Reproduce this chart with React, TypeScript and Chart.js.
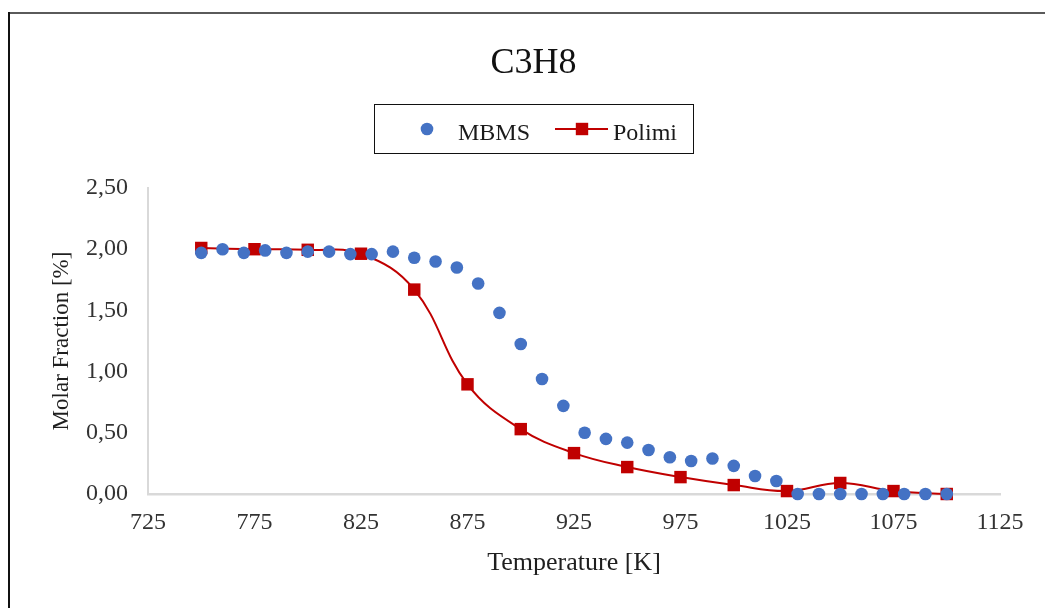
import React, { useEffect, useRef } from "react";
import { Chart, registerables } from "chart.js";

Chart.register(...registerables);

// ---- Data ----
const mbmsTemps = [
  750, 760, 770, 780, 790, 800, 810, 820, 830, 840, 850, 860, 870, 880, 890, 900, 910, 920,
  930, 940, 950, 960, 970, 980, 990, 1000, 1010, 1020, 1030, 1040, 1050, 1060, 1070, 1080, 1090, 1100,
];
const mbmsValues = [
  1.97, 2.0, 1.97, 1.99, 1.97, 1.98, 1.98, 1.96, 1.96, 1.98, 1.93, 1.9, 1.85, 1.72, 1.48, 1.225, 0.94, 0.72,
  0.5, 0.45, 0.42, 0.36, 0.3, 0.27, 0.29, 0.23, 0.147, 0.106, 0.0, 0.0, 0.0, 0.0, 0.0, 0.0, 0.0, 0.0,
];
const polimiTemps = [750, 775, 800, 825, 850, 875, 900, 925, 950, 975, 1000, 1025, 1050, 1075, 1100];
const polimiValues = [2.01, 2.0, 1.995, 1.963, 1.67, 0.896, 0.53, 0.334, 0.22, 0.138, 0.073, 0.024, 0.09, 0.024, 0.0];

const seriesNames = ["MBMS", "Polimi"];
const seriesColors = ["#4472C4", "#C00000"];
const chartTitle = "C3H8";
const xTitle = "Temperature [K]";
const yTitle = "Molar Fraction [%]";
const xMin = 725;
const xMax = 1125;
const xStep = 50;
const yMin = 0;
const yMax = 2.5;
const yStep = 0.5;

const FONT = "'Liberation Serif', 'Times New Roman', serif";

const decorPlugin = {
  id: "decor",
  beforeDraw(chart: any) {
    const ctx = chart.ctx;
    ctx.save();
    ctx.fillStyle = "#ffffff";
    ctx.fillRect(0, 0, chart.width, chart.height);
    // outer frame (top & left edges)
    ctx.strokeStyle = "#5a5a5a";
    ctx.lineWidth = 2;
    ctx.beginPath();
    ctx.moveTo(8, 13);
    ctx.lineTo(chart.width, 13);
    ctx.stroke();
    ctx.strokeStyle = "#111111";
    ctx.beginPath();
    ctx.moveTo(9, 12);
    ctx.lineTo(9, chart.height);
    ctx.stroke();
    ctx.restore();
  },
  afterDraw(chart: any) {
    const ctx = chart.ctx;
    const cx = 533.5;
    ctx.save();
    // title
    ctx.fillStyle = "#111111";
    ctx.font = `36px ${FONT}`;
    ctx.textAlign = "center";
    ctx.textBaseline = "alphabetic";
    ctx.fillText(chartTitle, cx, 73);

    // legend box
    const bx = 374.5, by = 104.5, bw = 319, bh = 49;
    ctx.strokeStyle = "#111111";
    ctx.lineWidth = 1;
    ctx.strokeRect(bx, by, bw, bh);
    const ly = 129;
    // MBMS marker
    ctx.fillStyle = seriesColors[0];
    ctx.beginPath();
    ctx.arc(427, ly, 6.3, 0, Math.PI * 2);
    ctx.fill();
    // Polimi marker: line + square
    ctx.strokeStyle = seriesColors[1];
    ctx.lineWidth = 2;
    ctx.beginPath();
    ctx.moveTo(555, ly);
    ctx.lineTo(608, ly);
    ctx.stroke();
    ctx.fillStyle = seriesColors[1];
    ctx.fillRect(582 - 6.2, ly - 6.2, 12.4, 12.4);
    // labels
    ctx.fillStyle = "#1a1a1a";
    ctx.font = `24px ${FONT}`;
    ctx.textAlign = "left";
    ctx.fillText(seriesNames[0], 458, 140);
    ctx.fillText(seriesNames[1], 613, 140);
    ctx.restore();
  },
};

export default function App() {
  const canvasRef = useRef<HTMLCanvasElement | null>(null);

  useEffect(() => {
    if (!canvasRef.current) return;
    const chart = new Chart(canvasRef.current, {
      type: "line",
      data: {
        datasets: [
          {
            label: seriesNames[0],
            data: mbmsTemps.map((t, i) => ({ x: t, y: mbmsValues[i] })),
            showLine: false,
            pointStyle: "circle",
            pointRadius: 6.3,
            pointBorderWidth: 0,
            backgroundColor: seriesColors[0],
            borderColor: seriesColors[0],
            clip: false as any,
          },
          {
            label: seriesNames[1],
            data: polimiTemps.map((t, i) => ({ x: t, y: polimiValues[i] })),
            showLine: true,
            tension: 0.4,
            borderWidth: 2,
            borderColor: seriesColors[1],
            backgroundColor: seriesColors[1],
            pointStyle: "rect",
            pointRadius: 8.8,
            pointBorderWidth: 0,
            clip: false as any,
          },
        ],
      },
      options: {
        responsive: false,
        animation: false,
        devicePixelRatio: 1,
        layout: { padding: { top: 188, left: 0, right: 45, bottom: 0 } },
        plugins: {
          legend: { display: false },
          title: { display: false },
          tooltip: { enabled: false },
        },
        scales: {
          x: {
            type: "linear",
            min: xMin,
            max: xMax,
            grid: { display: false, drawTicks: false },
            border: { display: true, color: "#d9d9d9", width: 2.5 },
            ticks: {
              stepSize: xStep,
              padding: 14,
              color: "#333333",
              font: { family: FONT, size: 24 },
              callback: (v: any) => String(v),
              maxRotation: 0,
            },
            title: {
              display: true,
              text: xTitle,
              color: "#1f1f1f",
              font: { family: FONT, size: 26 },
              padding: { top: 0, bottom: 29 },
            },
            afterFit: (s: any) => {
              s.height = 114;
            },
          },
          y: {
            type: "linear",
            min: yMin,
            max: yMax,
            grid: { display: false, drawTicks: false },
            border: { display: true, color: "#d9d9d9", width: 2 },
            ticks: {
              stepSize: yStep,
              padding: 20,
              color: "#333333",
              font: { family: FONT, size: 24 },
              callback: (v: any) => Number(v).toFixed(2).replace(".", ","),
            },
            title: {
              display: true,
              text: yTitle,
              color: "#1f1f1f",
              font: { family: FONT, size: 23 },
              padding: { top: 48, bottom: 0 },
            },
            afterFit: (s: any) => {
              s.width = 148;
            },
          },
        },
      },
      plugins: [decorPlugin],
    } as any);
    return () => chart.destroy();
  }, []);

  return (
    <canvas
      ref={canvasRef}
      width={1045}
      height={608}
      style={{ position: "absolute", left: 0, top: 0, width: 1045, height: 608, display: "block" }}
    />
  );
}
